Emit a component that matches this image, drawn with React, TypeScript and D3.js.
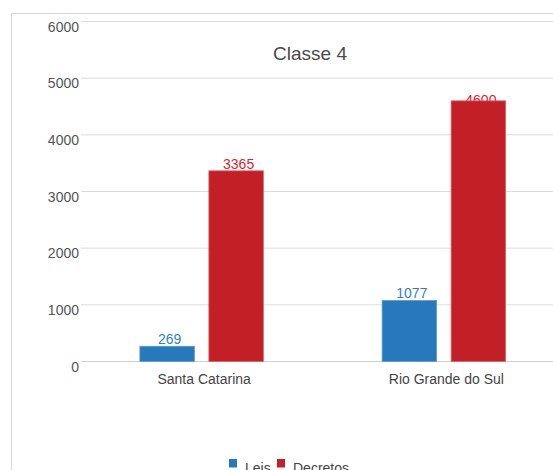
import React from "react";
import * as d3 from "d3";

const categories = ["Santa Catarina", "Rio Grande do Sul"];
const seriesNames = ["Leis", "Decretos"];
const leis = [269, 1077];
const decretos = [3365, 4600];
const yTicks = [0, 1000, 2000, 3000, 4000, 5000, 6000];
const title = "Classe 4";

const barColors = ["#2878bc", "#c31f26"];
const labelColors = ["#2f7fc6", "#d3262c"];

export default function App() {
  const W = 553;
  const H = 470;
  const font = "'Liberation Sans', Arial, sans-serif";
  const x = d3.scaleBand<string>().domain(categories).range([80.5, 565]);
  const inner = d3
    .scaleBand<string>()
    .domain(seriesNames)
    .range([-61.75, 61.75])
    .paddingInner(0.21);
  const y = d3.scaleLinear().domain([0, 6000]).range([361.5, 21.5]);
  const series = [leis, decretos];
  const maxVal = d3.max(series.flat()) as number;

  const bars: any[] = [];
  series.forEach((vals, si) => {
    vals.forEach((v, ci) => {
      const cx = (x(categories[ci]) as number) + x.bandwidth() / 2;
      const bx = cx + (inner(seriesNames[si]) as number);
      bars.push({ si, ci, v, bx, bw: inner.bandwidth(), top: y(v) });
    });
  });

  return (
    <svg
      width={W}
      height={H}
      style={{ position: "absolute", left: 0, top: 0, background: "#fff" }}
      fontFamily={font}
    >
      <rect x={11.5} y={13.5} width={W} height={H} fill="#fff" stroke="#d6d6d6" />
      {yTicks.map((t) => (
        <g key={t}>
          <line x1={81} x2={W} y1={y(t)} y2={y(t)} stroke={t === 0 ? "#cfcfcf" : "#dcdcdc"} strokeWidth={1} />
          <text x={79} y={y(t) + 10} textAnchor="end" fontSize={14} fill="#555">
            {t}
          </text>
        </g>
      ))}
      <text x={310} y={60} textAnchor="middle" fontSize={19} fill="#4a4a4a">
        {title}
      </text>
      {bars.map((b) => (
        <text
          key={"l" + b.si + b.ci}
          x={b.bx + b.bw / 2 + 2.5}
          y={b.v === maxVal ? b.top + 4 : b.top - 2}
          textAnchor="middle"
          fontSize={14}
          fill={labelColors[b.si]}
        >
          {b.v}
        </text>
      ))}
      {bars.map((b) => (
        <rect
          key={"b" + b.si + b.ci}
          x={b.bx}
          y={b.top}
          width={b.bw}
          height={y(0) - b.top}
          fill={barColors[b.si]}
          stroke={b.si === 0 ? "#5b9bd2" : "#d9676b"}
          strokeWidth={0.8}
        />
      ))}
      {categories.map((c) => (
        <text
          key={c}
          x={(x(c) as number) + x.bandwidth() / 2 + 2.5}
          y={383.5}
          textAnchor="middle"
          fontSize={14}
          fill="#444"
        >
          {c}
        </text>
      ))}
      {seriesNames.map((s, i) => (
        <g key={s}>
          <rect x={229 + i * 48} y={459} width={8} height={8.5} fill={barColors[i]} />
          <text x={245 + i * 48} y={473} fontSize={14} fill="#444">
            {s}
          </text>
        </g>
      ))}
    </svg>
  );
}
